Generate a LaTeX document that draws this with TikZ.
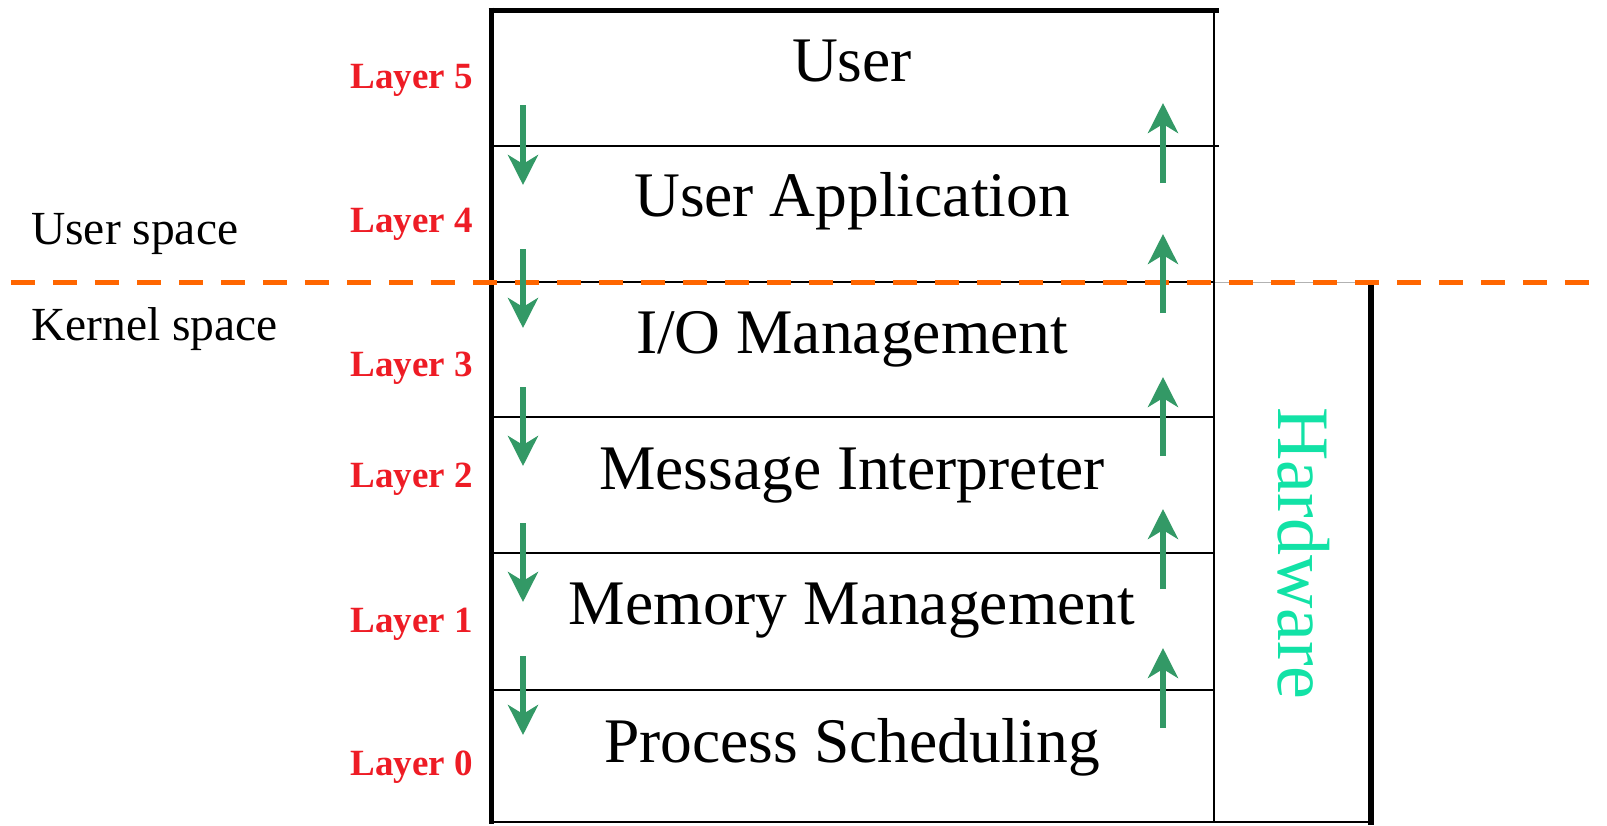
\documentclass[tikz,border=0pt]{standalone}
\usepackage{fontspec}
\setmainfont{Liberation Serif}
\usetikzlibrary{arrows.meta}
\definecolor{flowgreen}{HTML}{339966}
\definecolor{layerred}{HTML}{EE1C25}
\definecolor{splitorange}{HTML}{FF6600}
\definecolor{hwgreen}{HTML}{12E2A6}

\begin{document}
\begin{tikzpicture}[x=1pt,y=-1pt,
  layertext/.style={font=\fontsize{63.5}{70}\selectfont, anchor=base, inner sep=0pt},
  layertag/.style={font=\fontsize{37}{40}\selectfont\bfseries, text=layerred, anchor=base east, inner sep=0pt},
  spacetag/.style={font=\fontsize{47.5}{52}\selectfont, anchor=base west, inner sep=0pt},
  flow/.style={draw=flowgreen, line width=6pt, -{Stealth[length=30pt,width=30pt,inset=9pt,fill=flowgreen]}},
  thinrule/.style={line width=2pt},
  thickrule/.style={line width=5pt},
]
\useasboundingbox (0,0) rectangle (1607,825);

% hardware frame (top edge lies under the split line)
\draw[line width=1pt, black!30] (1214,282) -- (1371,282);
\draw[line width=6pt] (1371,284) -- (1371,825);

% layer stack frame
\draw[thickrule] (491,7.5) -- (491,823.5);
\draw[thickrule] (488.5,10) -- (1219,10);
\draw[thinrule] (1214,10) -- (1214,823);
\draw[line width=2.5pt] (489,822) -- (1374,822);

% boundaries between layers
\draw[thinrule] (491,146) -- (1219,146);
\foreach \yy in {282,417,553,690}
  \draw[thinrule] (491,\yy) -- (1214,\yy);

% user / kernel split
\draw[splitorange, line width=5pt, dash pattern=on 24pt off 18pt] (11,282) -- (1607,282);

% layer names
\node[layertext] (user) at (852,81) {User};
\node[layertext] (app) at (852,216) {User Application};
\node[layertext] (io) at (852,353) {I/O Management};
\node[layertext] (msg) at (852,489) {Message Interpreter};
\node[layertext] (mem) at (852,624) {Memory Management};
\node[layertext] (sched) at (852,762) {Process Scheduling};

% layer numbers
\node[layertag] (l5) at (473,88) {Layer 5};
\node[layertag] (l4) at (473,232) {Layer 4};
\node[layertag] (l3) at (473,376) {Layer 3};
\node[layertag] (l2) at (473,487) {Layer 2};
\node[layertag] (l1) at (473,632) {Layer 1};
\node[layertag] (l0) at (473,775) {Layer 0};

% space names
\node[spacetag] (us) at (31,244) {User space};
\node[spacetag] (ks) at (31,340) {Kernel space};

% hardware
\node[font=\fontsize{74}{80}\selectfont, text=hwgreen, rotate=-90, anchor=base, inner sep=0pt] (hw) at (1278,553) {Hardware};

% downward calls
\foreach \i/\a/\b in {1/105/185, 2/249/328, 3/387/466, 4/523/602, 5/656/735} {
  \coordinate (d\i s) at (523,\a);
  \coordinate (d\i e) at (523,\b);
  \draw[flow] (d\i s) -- (d\i e);
}
% upward returns
\foreach \i/\a/\b in {1/183/103, 2/313/234, 3/456/377, 4/589/509, 5/728/648} {
  \coordinate (u\i s) at (1163,\a);
  \coordinate (u\i e) at (1163,\b);
  \draw[flow] (u\i s) -- (u\i e);
}
\end{tikzpicture}
\end{document}
